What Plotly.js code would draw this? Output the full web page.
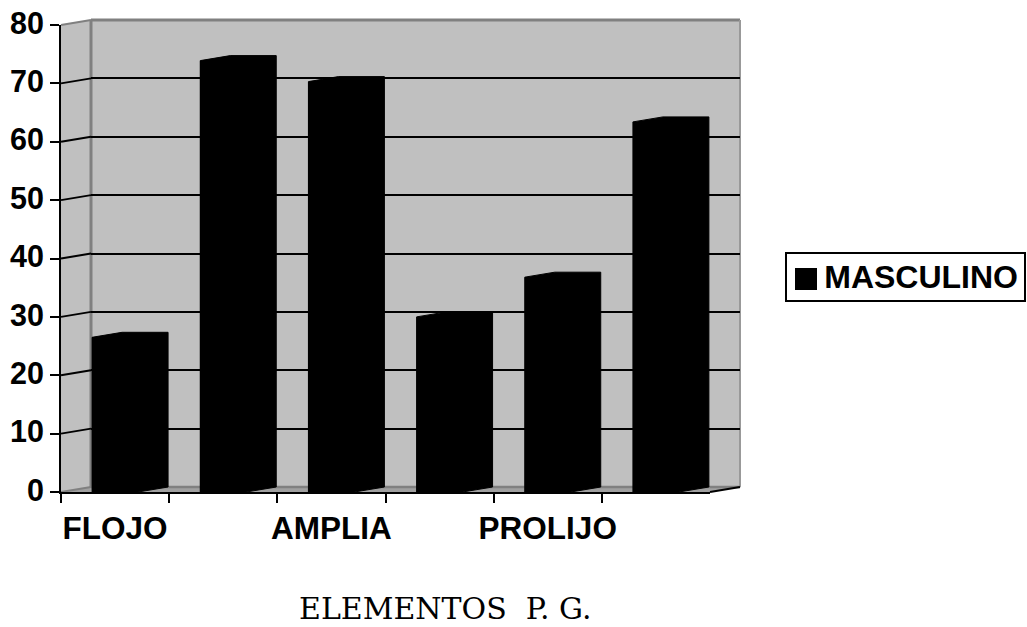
<!DOCTYPE html>
<html>
<head>
<meta charset="utf-8">
<script src="https://cdn.plot.ly/plotly-3.0.1.min.js"></script>
<style>html,body{margin:0;padding:0;background:#fff}</style>
</head>
<body>
<div id="chart" style="width:1027px;height:627px"></div>
<script>
const categories = ["FLOJO", " ", "AMPLIA", "  ", "PROLIJO", "   "];
const masculino = [26.5, 73.9, 70.3, 30.0, 36.8, 63.4];
const yTicks = [0, 10, 20, 30, 40, 50, 60, 70, 80];
const gridTicks = [10, 20, 30, 40, 50, 60, 70];
const seriesName = "MASCULINO";
const xTitle = "ELEMENTOS\u00a0\u00a0P.\u00a0G.";

const W = 1027, H = 627;
const front = {l: 61, r: 710, t: 25, b: 492};
const back = {l: 91, r: 740, t: 20, b: 487};
const px = x => x / W, py = y => 1 - y / H;
const barWidth = 0.425;
const dx = (back.l - front.l) / ((front.r - front.l) / categories.length);
const dy = (front.b - back.b) / ((front.b - front.t) / 80);

// silhouette of each 3D column, on the back-wall axes
const sx = [], sy = [];
masculino.forEach((v, i) => {
  const a = i - barWidth / 2, b = i + barWidth / 2;
  sx.push(a - dx, a, b, b, b - dx, a - dx, a - dx, null);
  sy.push(v - dy, v, v, 0, -dy, -dy, v - dy, null);
});

const traces = [
  {type: "scatter", x: sx, y: sy, xaxis: "x", yaxis: "y", mode: "lines", fill: "toself",
   fillcolor: "#000", line: {color: "#000", width: 1}, cliponaxis: false, showlegend: false, hoverinfo: "skip"},
  {type: "bar", name: seriesName, x: categories, y: masculino, xaxis: "x2", yaxis: "y2", width: barWidth,
   marker: {color: "#000", line: {width: 0}}, cliponaxis: false, showlegend: false}
];

const pathOf = pts => "M" + pts.map(p => px(p[0]) + "," + py(p[1])).join("L");
const wallShape = (pts, fill) => ({type: "path", xref: "paper", yref: "paper",
  path: pathOf(pts) + "Z", fillcolor: fill, line: {width: 0}, layer: "below"});
const edge = (x0, y0, x1, y1, color, width, layer) => ({type: "line", xref: "paper", yref: "paper",
  x0: px(x0), x1: px(x1), y0: py(y0), y1: py(y1), line: {color: color, width: width}, layer: layer || "below"});
const shapes = [
  wallShape([[back.l, back.t], [back.r, back.t], [back.r, back.b], [back.l, back.b]], "#c0c0c0"),
  wallShape([[front.l, front.t], [back.l, back.t], [back.l, back.b], [front.l, front.b]], "#c0c0c0"),
  wallShape([[front.l, front.b], [back.l, back.b], [back.r, back.b], [front.r, front.b]], "#a0a0a0"),
  edge(back.l, back.t, back.r, back.t, "#808080", 3),
  edge(back.l, back.t, back.l, back.b, "#808080", 3),
  edge(back.r, back.t, back.r, back.b, "#999999", 2),
  edge(back.l, back.b, back.r, back.b, "#808080", 2.5),
  edge(front.l, front.t, back.l, back.t, "#808080", 2),
  edge(front.l, front.b, back.l, back.b, "#808080", 2),
  edge(front.r, front.b, back.r, back.b, "#000", 2, "above"),
  // legend key
  {type: "rect", xref: "paper", yref: "paper", x0: px(795), x1: px(817), y0: py(290), y1: py(268), fillcolor: "#000", line: {width: 0}}
];
gridTicks.forEach(t => {
  const f = (t / 80) * (front.b - front.t);
  shapes.push(edge(front.l, front.b - f, back.l, back.b - f, "#000", 2));
});

const yTickFont = {family: "Liberation Sans, Arial, sans-serif", size: 30.5, weight: 700, color: "#000"};
const xTickFont = {family: "Liberation Sans, Arial, sans-serif", size: 31.5, weight: 700, color: "#000"};
const layout = {
  width: W, height: H, margin: {l: 0, r: 0, t: 0, b: 0},
  paper_bgcolor: "#fff", plot_bgcolor: "rgba(0,0,0,0)", showlegend: false, bargap: 0,
  xaxis: {domain: [px(back.l), px(back.r)], range: [-0.5, 5.5], anchor: "y", visible: false, fixedrange: true},
  yaxis: {domain: [py(front.b), py(back.t)], range: [-dy, 80], anchor: "x", fixedrange: true,
    tickmode: "array", tickvals: gridTicks, showticklabels: false, ticks: "", showline: false, zeroline: false,
    showgrid: true, gridcolor: "#000", gridwidth: 2},
  xaxis2: {domain: [px(front.l), px(front.r)], range: [-0.5, 5.5], anchor: "y2", type: "category",
    categoryorder: "array", categoryarray: categories, tickson: "boundaries", ticks: "outside", ticklen: 9, tickwidth: 2,
    tickcolor: "#000", showline: true, linecolor: "#000", linewidth: 2, showgrid: false, zeroline: false,
    tickfont: xTickFont, tickangle: 0, ticklabelstandoff: 7, fixedrange: true, automargin: false},
  yaxis2: {domain: [py(front.b), py(front.t)], range: [0, 80], anchor: "x2", tickmode: "array", tickvals: yTicks,
    ticks: "outside", ticklen: 9, tickwidth: 2, tickcolor: "#000", showline: true, linecolor: "#000", linewidth: 2,
    showgrid: false, zeroline: false, tickfont: yTickFont, ticklabelshift: -2, fixedrange: true, automargin: false},
  shapes: shapes,
  annotations: [
    {xref: "paper", yref: "paper", x: px(445), y: py(608), text: xTitle, showarrow: false, xanchor: "center", yanchor: "middle",
     font: {family: "DejaVu Serif, serif", size: 30, color: "#000"}},
    {xref: "paper", yref: "paper", x: px(785), y: py(277), xanchor: "left", yanchor: "middle", showarrow: false, align: "right",
     width: 225, height: 34,
     text: seriesName, bordercolor: "#000", borderwidth: 2, bgcolor: "rgba(255,255,255,0)", borderpad: 6,
     font: {family: "Liberation Sans, Arial, sans-serif", size: 32, weight: 700, color: "#000"}}
  ]
};
Plotly.newPlot("chart", traces, layout, {displayModeBar: false, staticPlot: true});
</script>
</body>
</html>
